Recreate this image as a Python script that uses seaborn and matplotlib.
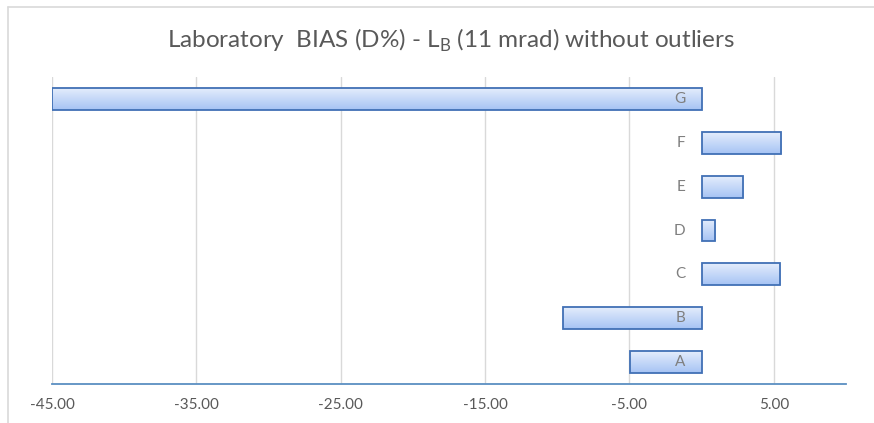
import numpy as np
import pandas as pd
import matplotlib
matplotlib.use('Agg')
import matplotlib.pyplot as plt
import seaborn as sns
from matplotlib.lines import Line2D
from matplotlib import transforms

# Data
labs = ['A', 'B', 'C', 'D', 'E', 'F', 'G']
bias = [-4.93, -9.62, 5.45, 0.92, 2.87, 5.50, -45.0]
x_ticks = [-45, -35, -25, -15, -5, 5]

df = pd.DataFrame({'lab': labs, 'bias': bias})
order = labs[::-1]  # G on top

sns.set_style('white')
plt.rcParams['font.family'] = ['Lato', 'DejaVu Sans']

fig = plt.figure(figsize=(8.74, 4.23), dpi=100)
ax = fig.add_axes([52 / 874, 1 - 384 / 423, (846 - 52) / 874, (384 - 77) / 423])

sns.barplot(data=df, x='bias', y='lab', order=order, orient='h', ax=ax,
            width=0.5, color='#c5d8f8', edgecolor='#4170b5', linewidth=1.3, zorder=3)

# gradient fill inside each bar (light on top, bluer at the bottom)
grad = np.linspace(0, 1, 100).reshape(-1, 1)
cmap = matplotlib.colors.LinearSegmentedColormap.from_list('g', ['#e4edfc', '#a6c3f4'])
for p in list(ax.patches):
    x0, y0 = p.get_x(), p.get_y()
    w, h = p.get_width(), p.get_height()
    im = ax.imshow(grad, cmap=cmap, aspect='auto', zorder=2.5,
                   extent=[x0, x0 + w, y0 + h, y0], interpolation='bilinear')
    im.set_clip_path(p)
    p.set_facecolor('none')

ax.set_xlim(-45, 10)
ax.set_ylim(6.5, -0.5)
ax.set_xticks(x_ticks)
ax.set_xticklabels(['%.2f' % v for v in x_ticks])
ax.xaxis.grid(True, color='#d9d9d9', linewidth=1, zorder=0)
ax.yaxis.grid(False)
ax.set_xlabel('')
ax.set_ylabel('')
ax.set_yticks([])

for s in ['top', 'right', 'left']:
    ax.spines[s].set_visible(False)
ax.spines['bottom'].set_color('#5b8fc2')
ax.spines['bottom'].set_linewidth(1.3)

ax.tick_params(axis='x', length=0, pad=10, labelsize=11, labelcolor='#595959')

# category labels sit just left of the zero line, above the bars
off = transforms.offset_copy(ax.transData, fig=fig, x=-16, y=0, units='dots')
for i, lab in enumerate(order):
    ax.text(0, i, lab, transform=off, ha='right', va='center',
            fontsize=11, color='#7f7f7f', zorder=6)

fig.text(0.516, 1 - 40 / 423, 'Laboratory  BIAS (D%) - L$_\\mathregular{B}$ (11 mrad) without outliers',
         ha='center', va='center', fontsize=17.5, color='#595959')

# outer chart border
fig.add_artist(Line2D([8 / 874, 8 / 874], [0, 1 - 7 / 423], transform=fig.transFigure,
                      color='#d9d9d9', linewidth=1.2))
fig.add_artist(Line2D([8 / 874, 1], [1 - 7 / 423, 1 - 7 / 423], transform=fig.transFigure,
                      color='#d9d9d9', linewidth=1.2))

fig.savefig('out.png', dpi=100)
